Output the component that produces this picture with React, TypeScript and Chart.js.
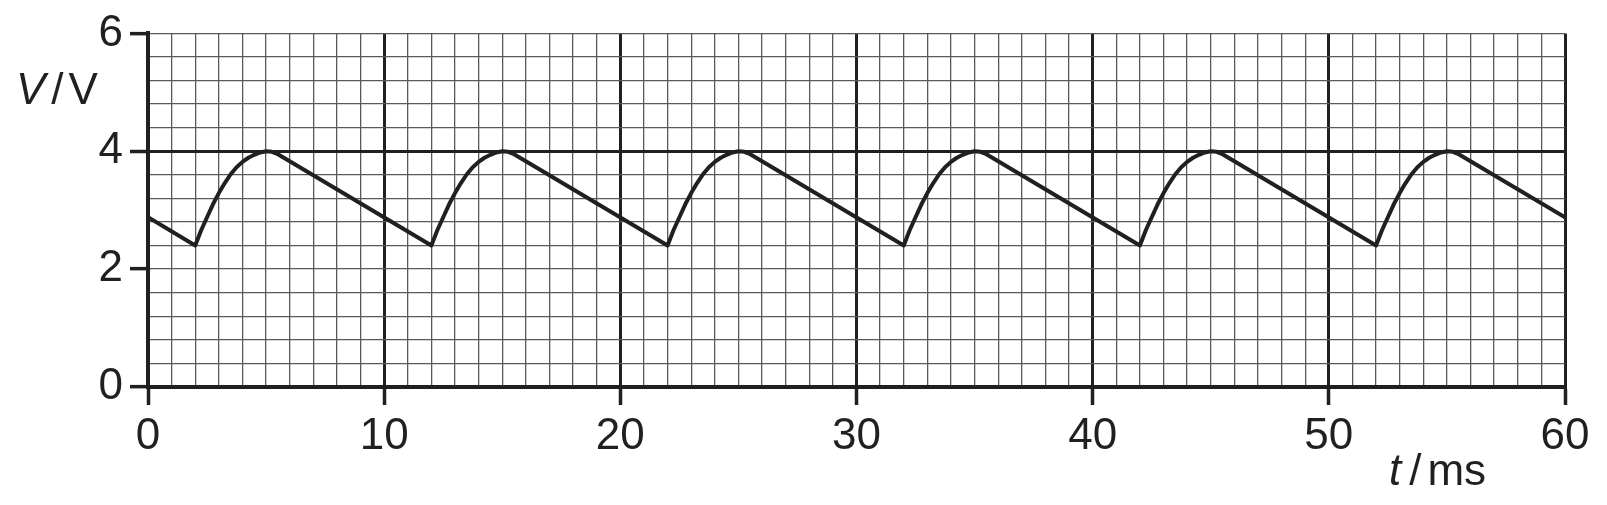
import { useEffect, useRef } from "react"
import { Chart, type ChartConfiguration, registerables } from "chart.js"

Chart.register(...registerables)

// time axis, ms
const timeMs = [
  0,
  2, 2.25, 2.5, 2.75, 3, 3.25, 3.5, 3.75, 4, 4.25, 4.5, 4.75, 5, 5.25, 5.5, 5.75, 6,
  12, 12.25, 12.5, 12.75, 13, 13.25, 13.5, 13.75, 14, 14.25, 14.5, 14.75, 15, 15.25, 15.5, 15.75, 16,
  22, 22.25, 22.5, 22.75, 23, 23.25, 23.5, 23.75, 24, 24.25, 24.5, 24.75, 25, 25.25, 25.5, 25.75, 26,
  32, 32.25, 32.5, 32.75, 33, 33.25, 33.5, 33.75, 34, 34.25, 34.5, 34.75, 35, 35.25, 35.5, 35.75, 36,
  42, 42.25, 42.5, 42.75, 43, 43.25, 43.5, 43.75, 44, 44.25, 44.5, 44.75, 45, 45.25, 45.5, 45.75, 46,
  52, 52.25, 52.5, 52.75, 53, 53.25, 53.5, 53.75, 54, 54.25, 54.5, 54.75, 55, 55.25, 55.5, 55.75, 56,
  60,
]

// voltage, V
const voltage = [
  2.88,
  2.4, 2.66, 2.88, 3.1, 3.29, 3.46, 3.61, 3.73, 3.82, 3.89, 3.94, 3.98, 4.0, 3.99, 3.95, 3.89, 3.83,
  2.4, 2.66, 2.88, 3.1, 3.29, 3.46, 3.61, 3.73, 3.82, 3.89, 3.94, 3.98, 4.0, 3.99, 3.95, 3.89, 3.83,
  2.4, 2.66, 2.88, 3.1, 3.29, 3.46, 3.61, 3.73, 3.82, 3.89, 3.94, 3.98, 4.0, 3.99, 3.95, 3.89, 3.83,
  2.4, 2.66, 2.88, 3.1, 3.29, 3.46, 3.61, 3.73, 3.82, 3.89, 3.94, 3.98, 4.0, 3.99, 3.95, 3.89, 3.83,
  2.4, 2.66, 2.88, 3.1, 3.29, 3.46, 3.61, 3.73, 3.82, 3.89, 3.94, 3.98, 4.0, 3.99, 3.95, 3.89, 3.83,
  2.4, 2.66, 2.88, 3.1, 3.29, 3.46, 3.61, 3.73, 3.82, 3.89, 3.94, 3.98, 4.0, 3.99, 3.95, 3.89, 3.83,
  2.88,
]

const xLabels = [0, 10, 20, 30, 40, 50, 60]
const yLabels = [0, 2, 4, 6]

const INK = "#231f20"
const MINOR = "#5a5a5a"
const FONT = "'Liberation Sans', Arial, sans-serif"

const isIn = (list: number[], v: number) => list.some((l) => Math.abs(l - v) < 1e-6)

export default function App() {
  const chartRef = useRef<HTMLCanvasElement>(null)
  const chartInstance = useRef<Chart | null>(null)

  useEffect(() => {
    if (!chartRef.current) return
    const ctx = chartRef.current.getContext("2d")
    if (!ctx) return

    if (chartInstance.current) {
      chartInstance.current.destroy()
    }

    const config: ChartConfiguration = {
      type: "line",
      data: {
        datasets: [
          {
            data: timeMs.map((t, i) => ({ x: t, y: voltage[i] })),
            borderColor: INK,
            borderWidth: 4,
            borderJoinStyle: "round",
            pointRadius: 0,
            tension: 0,
            fill: false,
          },
        ],
      },
      options: {
        animation: false,
        responsive: true,
        maintainAspectRatio: false,
        layout: { padding: { top: 33, right: 42, left: 0, bottom: 0 } },
        plugins: {
          legend: { display: false },
          tooltip: { enabled: false },
        },
        scales: {
          x: {
            type: "linear",
            min: 0,
            max: 60,
            afterFit: (scale) => {
              scale.height = 118
            },
            border: { display: true, color: INK, width: 4 },
            grid: {
              color: (c) => (isIn(xLabels, c.tick.value) ? INK : MINOR),
              lineWidth: (c) => (isIn(xLabels, c.tick.value) ? 3 : 1.3),
              tickLength: 18,
              tickColor: (c) => (isIn(xLabels, c.tick.value) ? INK : "rgba(0,0,0,0)"),
              tickWidth: 3.5,
            },
            ticks: {
              stepSize: 1,
              autoSkip: false,
              maxRotation: 0,
              padding: 5,
              color: INK,
              font: { family: FONT, size: 44 },
              callback: (v) => (isIn(xLabels, Number(v)) ? String(v) : ""),
            },
          },
          y: {
            min: 0,
            max: 6,
            afterFit: (scale) => {
              scale.width = 148
            },
            border: { display: true, color: INK, width: 4 },
            grid: {
              color: (c) => (Math.abs(c.tick.value - 4) < 1e-6 ? INK : MINOR),
              lineWidth: (c) => (Math.abs(c.tick.value - 4) < 1e-6 ? 3 : 1.3),
              tickLength: 18,
              tickColor: (c) => (isIn(yLabels, c.tick.value) ? INK : "rgba(0,0,0,0)"),
              tickWidth: 3.5,
            },
            ticks: {
              stepSize: 0.4,
              autoSkip: false,
              padding: 7,
              color: INK,
              font: { family: FONT, size: 44 },
              callback: (v) => (isIn(yLabels, Number(v)) ? String(Math.round(Number(v))) : ""),
            },
          },
        },
      },
    }

    chartInstance.current = new Chart(ctx, config)

    return () => {
      if (chartInstance.current) {
        chartInstance.current.destroy()
        chartInstance.current = null
      }
    }
  }, [])

  const titleStyle: React.CSSProperties = {
    position: "absolute",
    fontFamily: FONT,
    fontSize: 44,
    lineHeight: 1,
    color: INK,
    whiteSpace: "nowrap",
  }

  return (
    <div style={{ position: "absolute", left: 0, top: 0, width: 1607, height: 505, background: "#fff" }}>
      <canvas ref={chartRef} />
      <span style={{ ...titleStyle, left: 16, top: 67 }}>
        <i>V</i>
        <span style={{ margin: "0 5px 0 6px" }}>/</span>V
      </span>
      <span style={{ ...titleStyle, left: 1389, top: 448 }}>
        <i>t</i>
        <span style={{ margin: "0 6px 0 8px" }}>/</span>ms
      </span>
    </div>
  )
}
